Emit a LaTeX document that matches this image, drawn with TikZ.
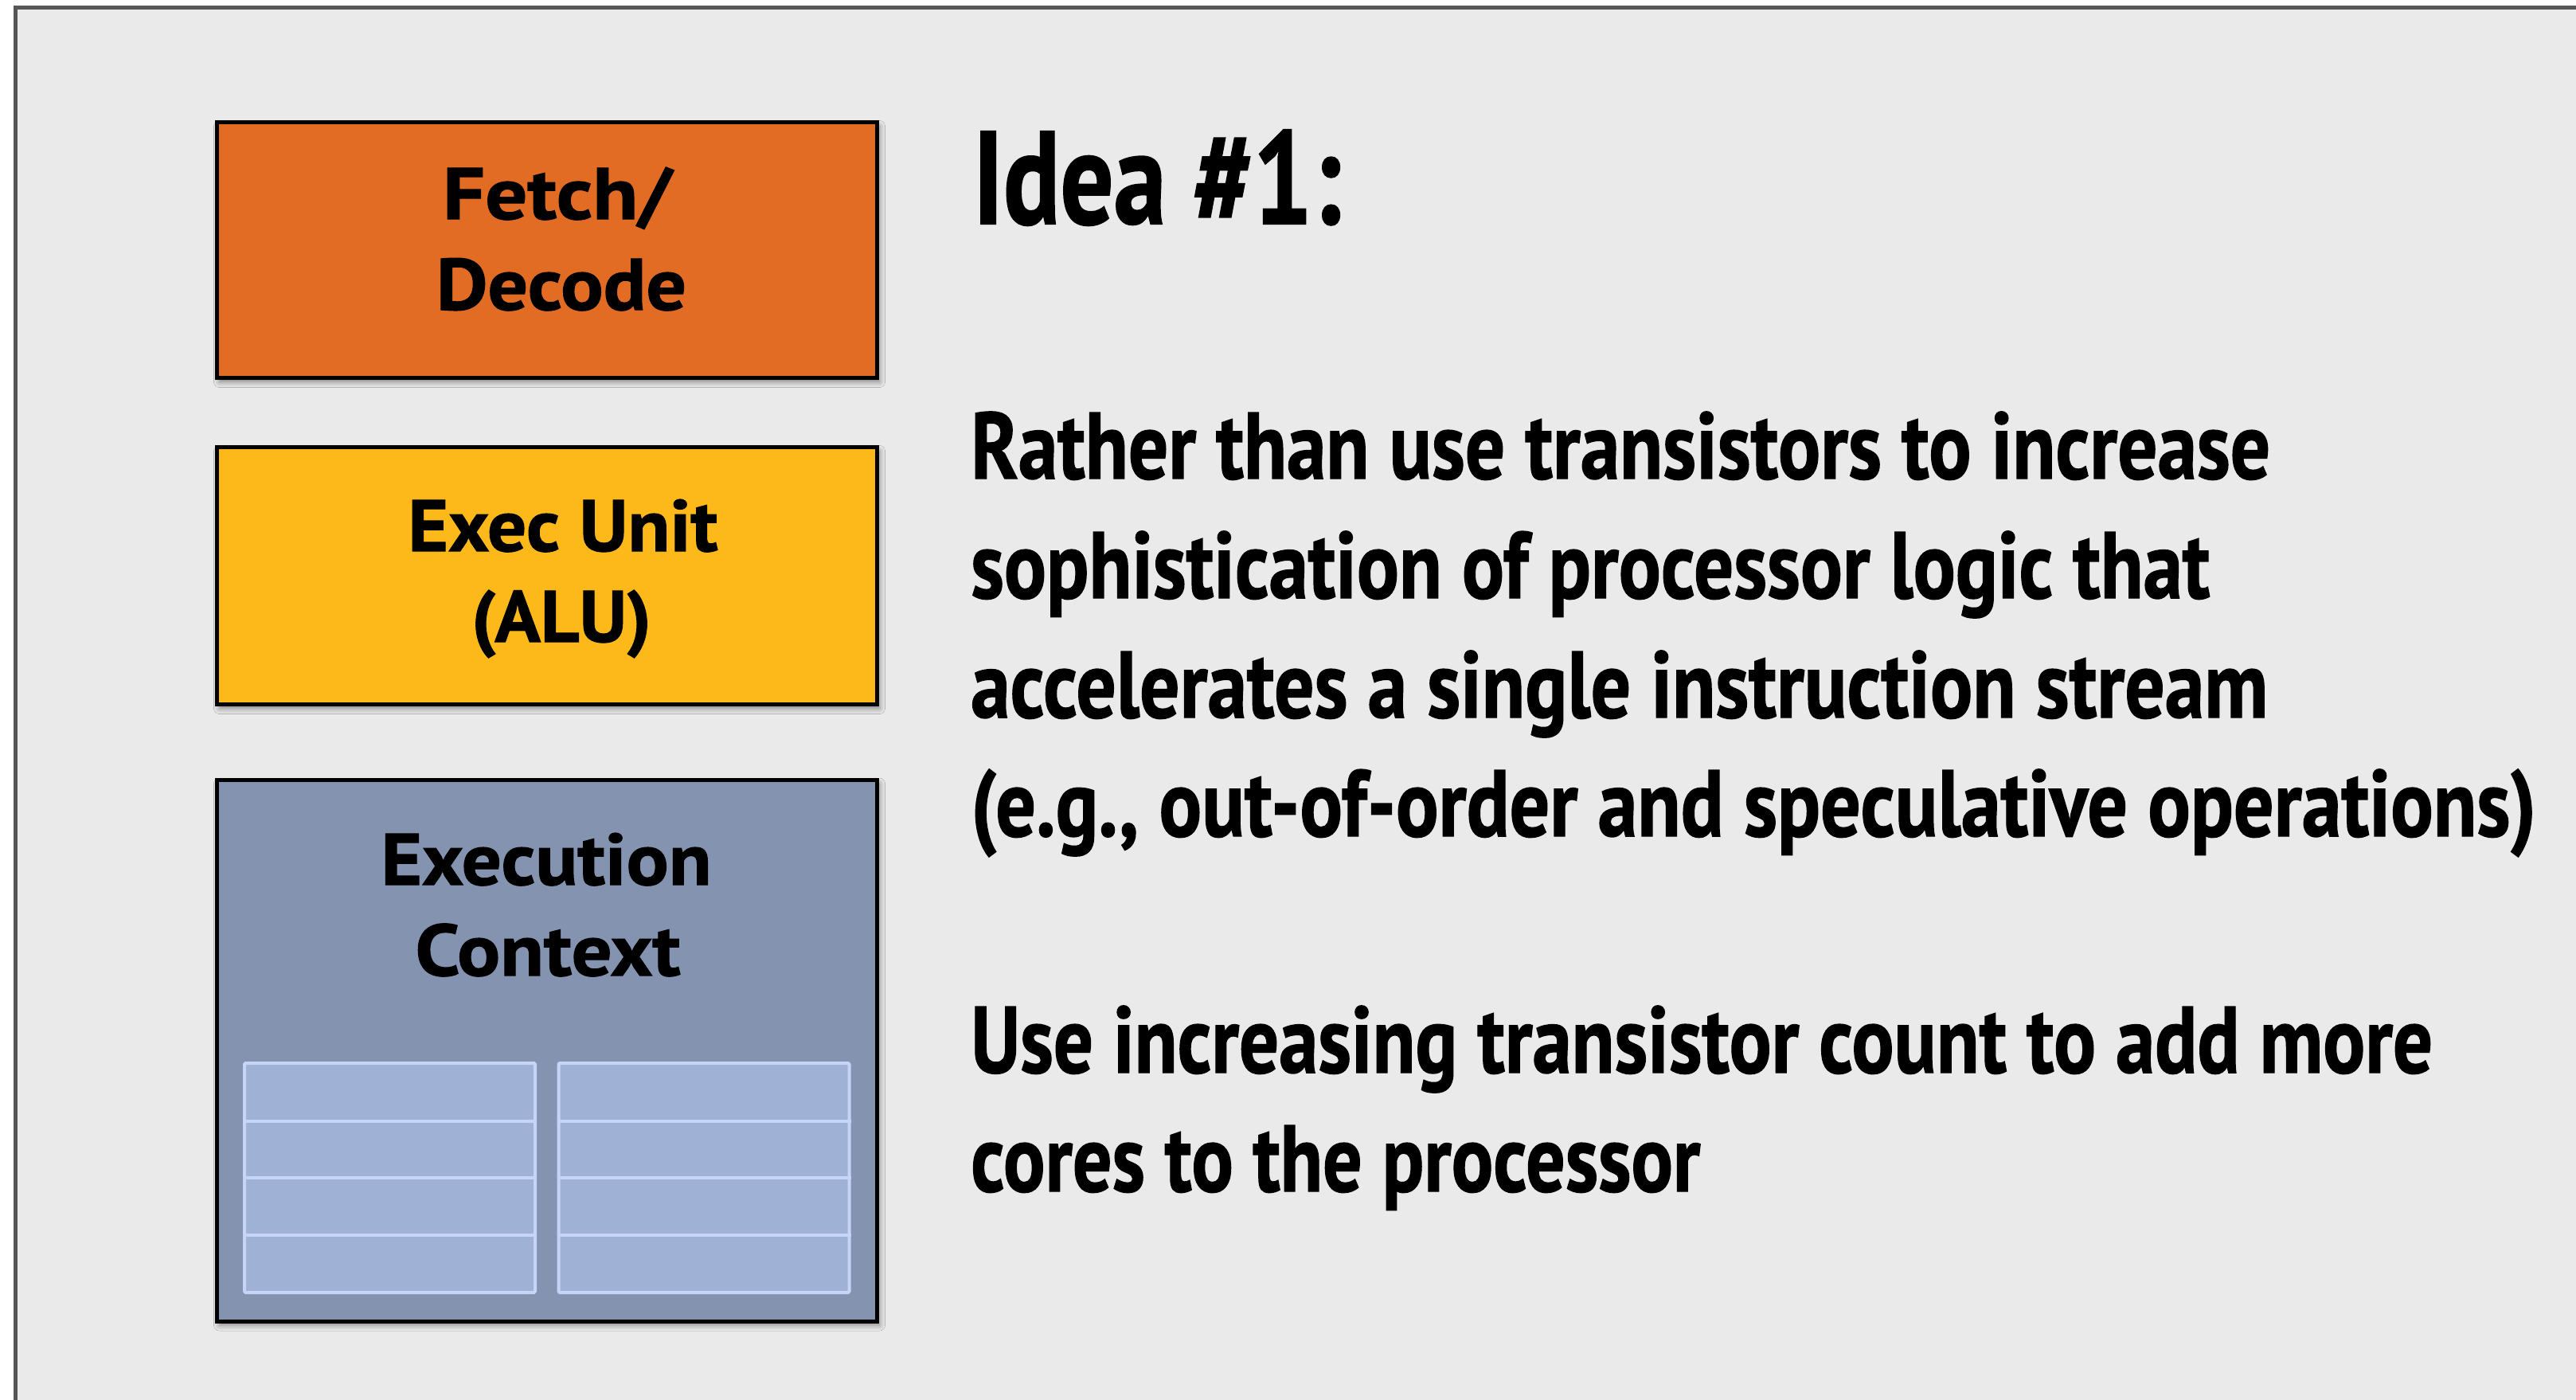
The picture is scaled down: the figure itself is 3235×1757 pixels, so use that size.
\documentclass[tikz,border=0pt]{standalone}
\usepackage{fontspec}
\setmainfont{PT Sans}[BoldFeatures={FakeBold=1.2}]
\usepackage{graphicx}
\usetikzlibrary{shadows.blur}

\definecolor{slidebg}{HTML}{EAEAEA}
\definecolor{framegray}{HTML}{565656}
\definecolor{fetchorange}{HTML}{E36C24}
\definecolor{aluyellow}{HTML}{FDB91A}
\definecolor{ctxblue}{HTML}{8493B0}
\definecolor{regfill}{HTML}{9FB1D4}
\definecolor{regline}{HTML}{C6D5F7}

% stretch a line of text horizontally to a given width, height untouched
\newcommand{\fitline}[2]{\resizebox{#1}{\height}{#2}}

\tikzset{
  unitbox/.style={draw=black, line width=5pt, rectangle, inner sep=0pt,
    blur shadow={shadow xshift=3pt, shadow yshift=-5pt, shadow blur radius=7pt,
      shadow opacity=45}},
  regcol/.style={draw=regline, fill=regfill, line width=4pt, rectangle,
    rounded corners=1.5pt, inner sep=0pt, minimum width=365pt, minimum height=288pt},
  boxlabel/.style={anchor=base, inner sep=0pt, font=\fontsize{91.5}{114}\selectfont\bfseries},
  bodyline/.style={anchor=base west, inner sep=0pt, font=\fontsize{118.5}{150}\selectfont\bfseries},
  titleline/.style={anchor=base west, inner sep=0pt, font=\fontsize{166}{200}\selectfont\bfseries}
}

\begin{document}
\begin{tikzpicture}[x=1pt, y=-1pt]
  \path[use as bounding box] (0,0) rectangle (3235,1757);
  \begin{scope}
    \clip (0,0) rectangle (3235,1757);
    % slide background and its frame (running off the right and bottom edges)
    \fill[slidebg] (19.5,9.5) rectangle (3300,1800);
    \draw[framegray, line width=5pt] (19.5,1800) -- (19.5,9.5) -- (3300,9.5);
  \end{scope}

  % core building blocks
  \node[unitbox, fill=fetchorange, minimum width=829pt, minimum height=321pt] (fetch) at (687,314) {};
  \node[unitbox, fill=aluyellow, minimum width=829pt, minimum height=323pt] (alu) at (687,723) {};
  \node[unitbox, fill=ctxblue, minimum width=829pt, minimum height=680pt] (ctx) at (687,1319) {};

  \node[boxlabel] (fetchA) at (700,275) {\fitline{288pt}{Fetch/}};
  \node[boxlabel] (fetchB) at (705,389) {\fitline{314pt}{Decode}};
  \node[boxlabel] (aluA) at (707,692) {\fitline{389pt}{Exec Unit}};
  \node[boxlabel] (aluB) at (705,806) {\fitline{226pt}{(ALU)}};
  \node[boxlabel] (ctxA) at (686,1111) {\fitline{415pt}{Execution}};
  \node[boxlabel] (ctxB) at (688,1225) {\fitline{333pt}{Context}};

  % register file: two columns of four entries
  \node[regcol] (regL) at (489.5,1479) {};
  \node[regcol] (regR) at (884,1479) {};
  \foreach \r in {1408,1479,1551} {
    \draw[regline, line width=4pt] (regL.west |- 0,\r) -- (regL.east |- 0,\r);
    \draw[regline, line width=4pt] (regR.west |- 0,\r) -- (regR.east |- 0,\r);
  }

  % heading and body text
  \node[titleline] (idea) at (1222,281) {\fitline{462pt}{Idea \#1:}};
  \node[bodyline] (l1) at (1219,601) {\fitline{1632pt}{Rather than use transistors to increase}};
  \node[bodyline] (l2) at (1219,751) {\fitline{1556pt}{sophistication of processor logic that}};
  \node[bodyline] (l3) at (1219,901) {\fitline{1629pt}{accelerates a single instruction stream}};
  \node[bodyline] (l4) at (1219,1050) {\fitline{1966pt}{(e.g., out-of-order and speculative operations)}};
  \node[bodyline] (l5) at (1219,1347) {\fitline{1836pt}{Use increasing transistor count to add more}};
  \node[bodyline] (l6) at (1219,1496) {\fitline{916pt}{cores to the processor}};
\end{tikzpicture}
\end{document}
